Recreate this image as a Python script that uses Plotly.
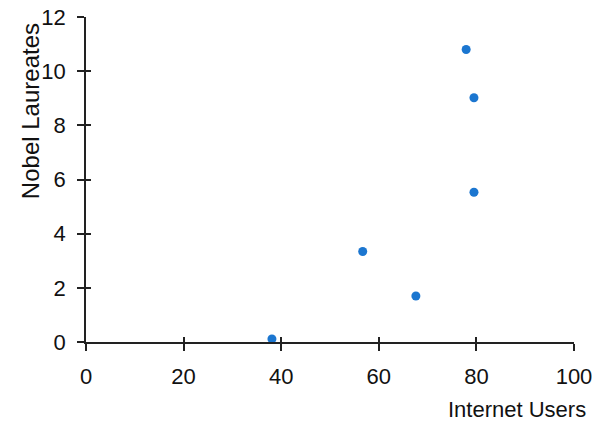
import plotly.graph_objects as go

# data
internet_users = [38.1, 56.7, 67.6, 77.9, 79.5, 79.5]
nobel_laureates = [0.11, 3.34, 1.70, 10.80, 9.02, 5.53]

x_ticks = [0, 20, 40, 60, 80, 100]
y_ticks = [0, 2, 4, 6, 8, 10, 12]

font_family = "Liberation Sans, Arial"

fig = go.Figure(go.Scatter(
	x=internet_users, y=nobel_laureates, mode='markers',
	marker={'size': 9, 'color': '#1b76d0'},
	showlegend=False,
))

# invisible trace on the overlay axes so the inside ticks get drawn
fig.add_trace(go.Scatter(x=[None], y=[None], xaxis='x2', yaxis='y2', showlegend=False))

axis_common = dict(
	showgrid=False, zeroline=False, showline=True, linecolor='#222222', linewidth=1.5,
	ticks='outside', ticklen=7, tickwidth=1.5, tickcolor='#222222', automargin=False,
	ticklabeloverflow='allow',
	tickfont={'size': 22, 'color': '#111111', 'family': font_family},
)

fig.update_layout(
	width=600, height=431,
	margin={'l': 86, 'r': 26, 't': 17, 'b': 89},
	paper_bgcolor='white', plot_bgcolor='white',
	font={'family': font_family},
	xaxis=dict(axis_common, range=[0, 100], tickvals=x_ticks, ticklabelstandoff=7),
	yaxis=dict(axis_common, range=[0, 12], tickvals=y_ticks, ticklabelstandoff=7),
	xaxis2=dict(overlaying='x', range=[0, 100], tickvals=x_ticks, ticks='inside', ticklen=5,
		tickwidth=1.5, tickcolor='#222222', showticklabels=False, showgrid=False,
		zeroline=False, showline=False, automargin=False),
	yaxis2=dict(overlaying='y', range=[0, 12], tickvals=y_ticks, ticks='inside', ticklen=5,
		tickwidth=1.5, tickcolor='#222222', showticklabels=False, showgrid=False,
		zeroline=False, showline=False, automargin=False),
	annotations=[
		dict(text='Internet Users', xref='paper', yref='paper', x=1.029, y=-0.207,
			xanchor='right', yanchor='middle', showarrow=False,
			font={'size': 22, 'color': '#111111', 'family': font_family}),
		dict(text='Nobel Laureates', xref='paper', yref='paper', x=-0.115, y=0.71,
			xanchor='center', yanchor='middle', textangle=-90, showarrow=False,
			font={'size': 24, 'color': '#111111', 'family': font_family}),
	],
)

# drop the default 8px page margin so the figure fills the window exactly
fig.write_html("out.html", config={'displayModeBar': False},
	post_script="document.body.style.margin='0';")
